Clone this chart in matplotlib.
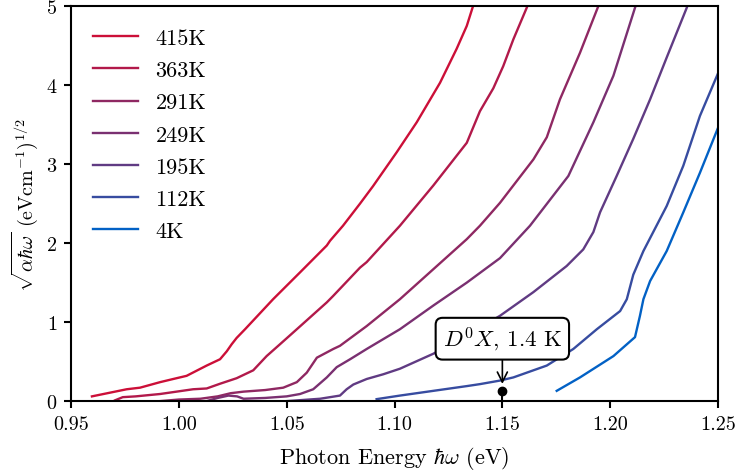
import matplotlib
matplotlib.use('Agg')
import matplotlib.pyplot as plt
from matplotlib.colors import LinearSegmentedColormap

plt.rcParams['font.family'] = 'serif'
plt.rcParams['font.serif'] = ['cmr10']
plt.rcParams['mathtext.fontset'] = 'cm'
plt.rcParams['axes.formatter.use_mathtext'] = True
plt.rcParams['axes.unicode_minus'] = False

# photon energy (eV) / sqrt(alpha hbar omega)
e_415 = [0.9597, 0.9758, 0.9820, 0.9913, 0.9974, 1.0036, 1.0129, 1.0191, 1.0222,
         1.0245, 1.0268, 1.0307, 1.0437, 1.0562, 1.0686, 1.0701, 1.0761, 1.0840,
         1.0900, 1.1010, 1.1103, 1.1211, 1.1288, 1.1335, 1.1364, 1.1390]
a_415 = [0.06, 0.15, 0.17, 0.24, 0.28, 0.32, 0.45, 0.53, 0.63, 0.72, 0.80, 0.91,
         1.29, 1.63, 1.97, 2.03, 2.22, 2.50, 2.72, 3.15, 3.53, 4.03, 4.46, 4.75,
         5.00, 5.15]

e_363 = [0.9704, 0.9740, 0.9800, 0.9913, 1.0066, 1.0129, 1.0191, 1.0268, 1.0345,
         1.0407, 1.0469, 1.0547, 1.0686, 1.0715, 1.0840, 1.0871, 1.1025, 1.1180,
         1.1335, 1.1396, 1.1458, 1.1504, 1.1551, 1.1613, 1.1630]
a_363 = [0.01, 0.05, 0.06, 0.09, 0.15, 0.16, 0.22, 0.29, 0.39, 0.57, 0.72, 0.91,
         1.25, 1.33, 1.69, 1.76, 2.22, 2.73, 3.27, 3.67, 3.96, 4.24, 4.58, 4.98,
         5.10]

e_291 = [0.9913, 1.0000, 1.0100, 1.0180, 1.0240, 1.0300, 1.0400, 1.0484, 1.0547,
         1.0593, 1.0640, 1.0716, 1.0747, 1.0871, 1.1025, 1.1180, 1.1335, 1.1396,
         1.1489, 1.1551, 1.1644, 1.1706, 1.1767, 1.1860, 1.1942, 1.1960]
a_291 = [0.00, 0.02, 0.03, 0.06, 0.10, 0.12, 0.14, 0.17, 0.24, 0.36, 0.55, 0.66,
         0.70, 0.95, 1.29, 1.67, 2.05, 2.22, 2.51, 2.73, 3.06, 3.34, 3.82, 4.41,
         4.98, 5.10]

e_249 = [1.0129, 1.0180, 1.0230, 1.0270, 1.0300, 1.0400, 1.0500, 1.0562, 1.0623,
         1.0686, 1.0732, 1.0794, 1.0871, 1.1025, 1.1180, 1.1335, 1.1489, 1.1628,
         1.1806, 1.1922, 1.2015, 1.2115, 1.2130]
a_249 = [0.00, 0.04, 0.07, 0.06, 0.03, 0.04, 0.06, 0.09, 0.15, 0.30, 0.43, 0.53,
         0.66, 0.91, 1.21, 1.50, 1.81, 2.22, 2.85, 3.53, 4.12, 4.98, 5.10]

e_195 = [1.0500, 1.0655, 1.0747, 1.0778, 1.0809, 1.0871, 1.0948, 1.1025, 1.1180,
         1.1335, 1.1489, 1.1644, 1.1798, 1.1875, 1.1922, 1.1953, 1.2030, 1.2107,
         1.2185, 1.2262, 1.2355, 1.2370]
a_195 = [0.00, 0.03, 0.07, 0.15, 0.21, 0.28, 0.34, 0.41, 0.60, 0.83, 1.08, 1.38,
         1.71, 1.92, 2.14, 2.39, 2.85, 3.32, 3.82, 4.35, 4.98, 5.10]

e_112 = [1.0917, 1.1025, 1.1180, 1.1335, 1.1396, 1.1489, 1.1551, 1.1706, 1.1829,
         1.1938, 1.2046, 1.2077, 1.2107, 1.2154, 1.2262, 1.2339, 1.2416, 1.2500]
a_112 = [0.025, 0.07, 0.13, 0.19, 0.215, 0.26, 0.30, 0.45, 0.66, 0.91, 1.14, 1.29,
         1.60, 1.90, 2.47, 2.98, 3.61, 4.15]

e_4 = [1.1752, 1.1860, 1.2015, 1.2115, 1.2138, 1.2154, 1.2185, 1.2262, 1.2339,
       1.2416, 1.2500]
a_4 = [0.13, 0.30, 0.57, 0.81, 1.08, 1.29, 1.52, 1.90, 2.39, 2.89, 3.46]

temps = [415, 363, 291, 249, 195, 112, 4]
energies = [e_415, e_363, e_291, e_249, e_195, e_112, e_4]
signals = [a_415, a_363, a_291, a_249, a_195, a_112, a_4]

# donor-bound exciton line at 1.4 K
dx_energy = 1.15
dx_level = 0.13

cmap = LinearSegmentedColormap.from_list('tc', ['#0062c6', '#cc0f38'])

fig, ax = plt.subplots(figsize=(7.42, 4.77), dpi=100)
fig.subplots_adjust(left=0.0957, right=0.9677, bottom=0.157, top=0.985)

for t, e, a in zip(temps, energies, signals):
    ax.plot(e, a, color=cmap(t / max(temps)), lw=1.7, label=f'{t}K')

ax.plot([dx_energy, dx_energy], [0, dx_level], color='black', lw=1.5,
        clip_on=False)
ax.plot(dx_energy, dx_level, 'o', color='black', ms=6)
ax.annotate(r'$D^0X$, 1.4 K', xy=(dx_energy, dx_level), xytext=(dx_energy, 0.79),
            ha='center', va='center', fontsize=16.5,
            bbox=dict(boxstyle='round,pad=0.3', fc='white', ec='black', lw=1.5),
            arrowprops=dict(arrowstyle='->', color='black', lw=1.2,
                            mutation_scale=18, shrinkA=0, shrinkB=5))

ax.set_xlim(0.95, 1.25)
ax.set_ylim(0, 5)
ax.set_xticks([0.95, 1.00, 1.05, 1.10, 1.15, 1.20, 1.25])
ax.set_xticklabels(['0.95', '1.00', '1.05', '1.10', '1.15', '1.20', '1.25'])
ax.set_yticks([0, 1, 2, 3, 4, 5])
ax.tick_params(labelsize=14.5, length=5, width=1.5, pad=5)
for s in ax.spines.values():
    s.set_linewidth(1.5)

ax.set_xlabel(r'Photon Energy $\hbar\omega$ (eV)', fontsize=16, labelpad=8)
ax.set_ylabel(r'$\sqrt{\alpha\hbar\omega}$ (eVcm$^{-1}$)$^{1/2}$', fontsize=14.5)
ax.legend(loc='upper left', frameon=False, fontsize=16, handlelength=2.0,
          borderaxespad=0.6, labelspacing=0.57)

fig.savefig('out.png', dpi=100)
